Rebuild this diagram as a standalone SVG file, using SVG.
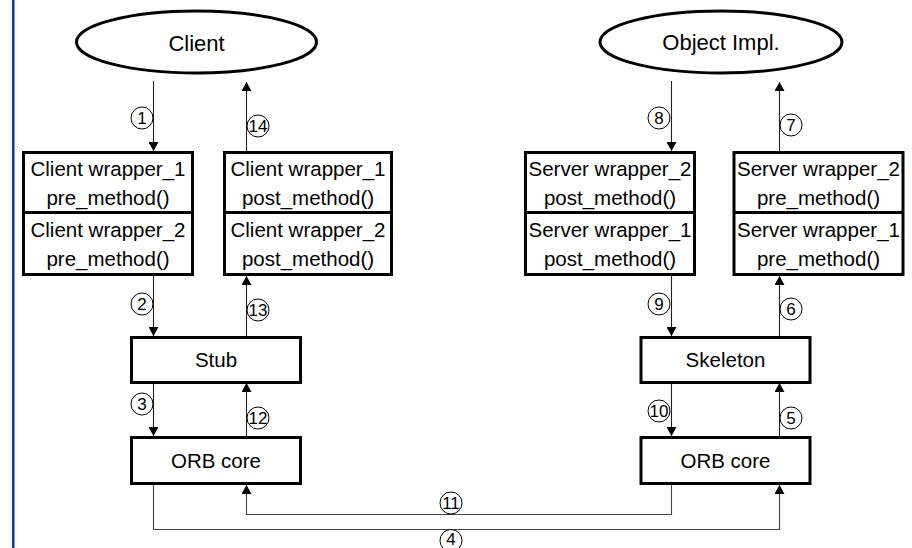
<svg xmlns="http://www.w3.org/2000/svg" width="912" height="548" viewBox="0 0 912 548">
<style>
  .box{fill:#fff;stroke:#000;stroke-width:3}
  .div{stroke:#000;stroke-width:3}
  .t{font-family:"Liberation Sans",Arial,sans-serif;font-size:20.5px;fill:#000;text-anchor:middle}
  .te{font-family:"Liberation Sans",Arial,sans-serif;font-size:22px;fill:#000;text-anchor:middle}
  .c{fill:#fff;stroke:#000;stroke-width:1}
  .n{font-family:"Liberation Sans",Arial,sans-serif;font-size:17px;fill:#000;text-anchor:middle}
  .a{fill:none;stroke:#222;stroke-width:1.1;marker-end:url(#ah)}
  .b{fill:none;stroke:#444;stroke-width:1.1;marker-end:url(#ah)}
</style>
<defs>
  <marker id="ah" markerUnits="userSpaceOnUse" markerWidth="9" markerHeight="10" viewBox="0 0 9 10" refX="9" refY="5" orient="auto">
    <path d="M0,0 L9,5 L0,10 z" fill="#000"/>
  </marker>
</defs>
<rect x="0" y="0" width="912" height="548" fill="#fff"/>
<rect x="12" y="0" width="2.5" height="548" fill="#1432b4"/>

<g id="connectors">
  <line class="a" x1="153.5" y1="81" x2="153.5" y2="151"/>
  <line class="a" x1="246.5" y1="151" x2="246.5" y2="82"/>
  <line class="a" x1="153.5" y1="276" x2="153.5" y2="336"/>
  <line class="a" x1="246.5" y1="336" x2="246.5" y2="276"/>
  <line class="a" x1="153.5" y1="383" x2="153.5" y2="436"/>
  <line class="a" x1="246.5" y1="436" x2="246.5" y2="383"/>
  <line class="a" x1="671.5" y1="81" x2="671.5" y2="151"/>
  <line class="a" x1="779.5" y1="151" x2="779.5" y2="82"/>
  <line class="a" x1="671.5" y1="276" x2="671.5" y2="336"/>
  <line class="a" x1="779.5" y1="336" x2="779.5" y2="276"/>
  <line class="a" x1="671.5" y1="383" x2="671.5" y2="436"/>
  <line class="a" x1="779.5" y1="436" x2="779.5" y2="383"/>
  <path class="b" d="M153.5,485 V529.5 H779.5 V485"/>
  <path class="b" d="M671.5,485 V514.5 H246.5 V485"/>
</g>

<g id="client">
  <ellipse cx="196.5" cy="42" rx="120" ry="31" fill="#fff" stroke="#000" stroke-width="3"/>
  <text class="te" x="196.5" y="51">Client</text>
</g>
<g id="object-impl">
  <ellipse cx="721" cy="42" rx="121" ry="31" fill="#fff" stroke="#000" stroke-width="3"/>
  <text class="te" x="721" y="50">Object Impl.</text>
</g>

<g id="client-pre">
  <rect class="box" x="23.5" y="152.5" width="169" height="122"/>
  <line class="div" x1="23.5" y1="212.5" x2="192.5" y2="212.5"/>
  <text class="t" x="108" y="176">Client wrapper_1</text>
  <text class="t" x="108" y="205">pre_method()</text>
  <text class="t" x="108" y="237">Client wrapper_2</text>
  <text class="t" x="108" y="266">pre_method()</text>
</g>
<g id="client-post">
  <rect class="box" x="224.5" y="152.5" width="167" height="122"/>
  <line class="div" x1="224.5" y1="212.5" x2="391.5" y2="212.5"/>
  <text class="t" x="308" y="176">Client wrapper_1</text>
  <text class="t" x="308" y="205">post_method()</text>
  <text class="t" x="308" y="237">Client wrapper_2</text>
  <text class="t" x="308" y="266">post_method()</text>
</g>
<g id="server-post">
  <rect class="box" x="525.5" y="152.5" width="169" height="122"/>
  <line class="div" x1="525.5" y1="212.5" x2="694.5" y2="212.5"/>
  <text class="t" x="610" y="176">Server wrapper_2</text>
  <text class="t" x="610" y="205">post_method()</text>
  <text class="t" x="610" y="237">Server wrapper_1</text>
  <text class="t" x="610" y="266">post_method()</text>
</g>
<g id="server-pre">
  <rect class="box" x="734" y="152.5" width="169" height="122"/>
  <line class="div" x1="734" y1="212.5" x2="903" y2="212.5"/>
  <text class="t" x="818.5" y="176">Server wrapper_2</text>
  <text class="t" x="818.5" y="205">pre_method()</text>
  <text class="t" x="818.5" y="237">Server wrapper_1</text>
  <text class="t" x="818.5" y="266">pre_method()</text>
</g>

<g id="stub">
  <rect class="box" x="131.5" y="337.5" width="169" height="45"/>
  <text class="t" x="216" y="367">Stub</text>
</g>
<g id="orb-client">
  <rect class="box" x="131.5" y="437.5" width="169" height="46"/>
  <text class="t" x="216" y="468">ORB core</text>
</g>
<g id="skeleton">
  <rect class="box" x="641" y="337.5" width="169" height="45"/>
  <text class="t" x="725.5" y="367">Skeleton</text>
</g>
<g id="orb-server">
  <rect class="box" x="641" y="437.5" width="169" height="46"/>
  <text class="t" x="725.5" y="468">ORB core</text>
</g>

<g id="labels">
  <circle class="c" cx="142" cy="118" r="11"/><text class="n" x="142" y="124">1</text>
  <circle class="c" cx="258" cy="126" r="11"/><text class="n" x="258" y="132">14</text>
  <circle class="c" cx="142" cy="304" r="11"/><text class="n" x="142" y="310">2</text>
  <circle class="c" cx="258" cy="310" r="11"/><text class="n" x="258" y="316">13</text>
  <circle class="c" cx="142" cy="404" r="11"/><text class="n" x="142" y="410">3</text>
  <circle class="c" cx="258" cy="418" r="11"/><text class="n" x="258" y="424">12</text>
  <circle class="c" cx="451" cy="503" r="11"/><text class="n" x="451" y="509">11</text>
  <circle class="c" cx="451" cy="540.5" r="11"/><text class="n" x="451" y="544.5">4</text>
  <circle class="c" cx="659" cy="118" r="11"/><text class="n" x="659" y="124">8</text>
  <circle class="c" cx="791" cy="125" r="11"/><text class="n" x="791" y="131">7</text>
  <circle class="c" cx="659" cy="304" r="11"/><text class="n" x="659" y="310">9</text>
  <circle class="c" cx="791" cy="309" r="11"/><text class="n" x="791" y="315">6</text>
  <circle class="c" cx="659" cy="411" r="11"/><text class="n" x="659" y="417">10</text>
  <circle class="c" cx="791" cy="418" r="11"/><text class="n" x="791" y="424">5</text>
</g>
</svg>
